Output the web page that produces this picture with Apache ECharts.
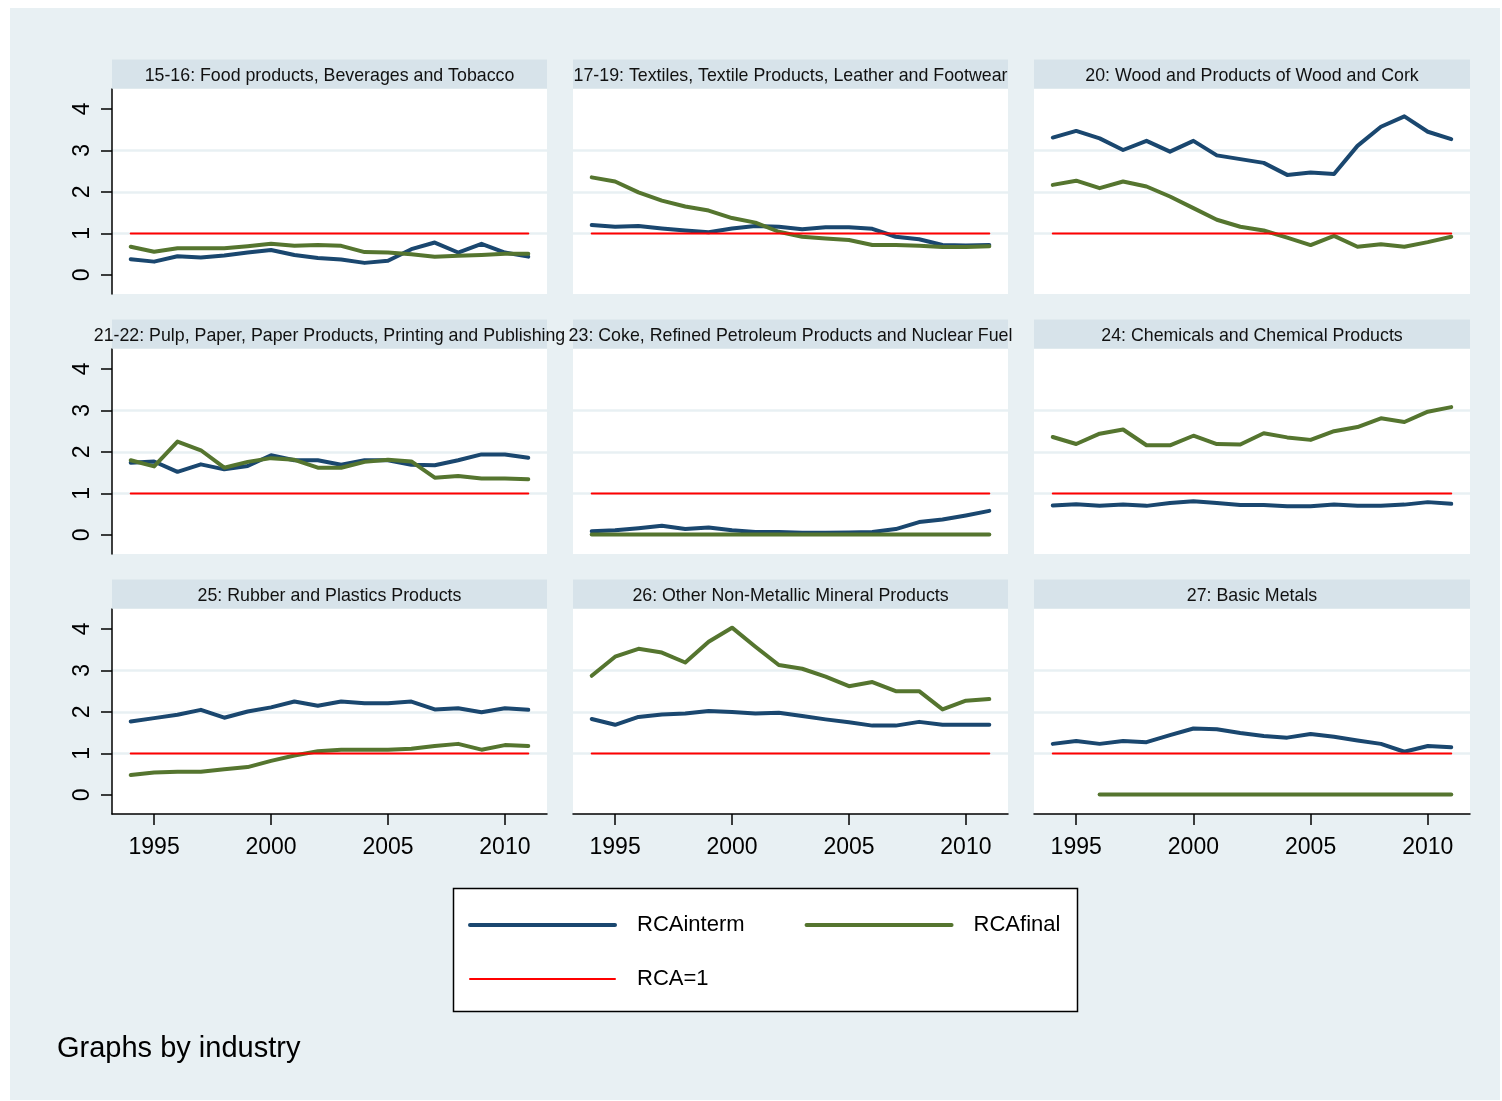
<!DOCTYPE html>
<html><head><meta charset="utf-8">
<script src="https://cdn.jsdelivr.net/npm/echarts@6/dist/echarts.min.js"></script>
<style>html,body{margin:0;padding:0;background:#fff}#c{width:1502px;height:1101px}</style>
</head><body><div id="c"></div>
<script>
const years = [1994,1995,1996,1997,1998,1999,2000,2001,2002,2003,2004,2005,2006,2007,2008,2009,2010,2011];
const xTicks = [1995,2000,2005,2010];
const yTicks = [0,1,2,3,4];
const seriesNames = ['RCAinterm','RCAfinal','RCA=1'];
const panelTitles = [
  '15-16: Food products, Beverages and Tobacco',
  '17-19: Textiles, Textile Products, Leather and Footwear',
  '20: Wood and Products of Wood and Cork',
  '21-22: Pulp, Paper, Paper Products, Printing and Publishing',
  '23: Coke, Refined Petroleum Products and Nuclear Fuel',
  '24: Chemicals and Chemical Products',
  '25: Rubber and Plastics Products',
  '26: Other Non-Metallic Mineral Products',
  '27: Basic Metals'
];
const foodInterm   = [0.38,0.32,0.45,0.42,0.47,0.54,0.60,0.48,0.41,0.37,0.29,0.34,0.62,0.78,0.54,0.75,0.54,0.44];
const foodFinal    = [0.68,0.56,0.64,0.64,0.64,0.69,0.75,0.70,0.72,0.70,0.55,0.54,0.50,0.44,0.46,0.48,0.51,0.51];
const textInterm   = [1.20,1.16,1.18,1.12,1.07,1.03,1.12,1.18,1.16,1.10,1.15,1.15,1.11,0.92,0.86,0.72,0.71,0.72];
const textFinal    = [2.35,2.25,1.99,1.79,1.65,1.55,1.37,1.26,1.04,0.92,0.88,0.84,0.72,0.72,0.70,0.67,0.67,0.69];
const woodInterm   = [3.31,3.47,3.29,3.01,3.23,2.97,3.23,2.88,2.79,2.70,2.41,2.47,2.43,3.11,3.57,3.82,3.45,3.27];
const woodFinal    = [2.17,2.27,2.09,2.25,2.13,1.89,1.61,1.33,1.16,1.07,0.90,0.72,0.94,0.68,0.74,0.68,0.79,0.92];
const pulpInterm   = [1.74,1.77,1.52,1.70,1.58,1.66,1.92,1.80,1.80,1.69,1.80,1.80,1.69,1.68,1.80,1.94,1.94,1.86];
const pulpFinal    = [1.80,1.65,2.25,2.04,1.62,1.76,1.85,1.81,1.62,1.62,1.76,1.81,1.77,1.38,1.42,1.36,1.36,1.34];
const cokeInterm   = [0.09,0.11,0.16,0.22,0.14,0.18,0.11,0.07,0.07,0.05,0.05,0.06,0.07,0.14,0.31,0.37,0.47,0.58];
const cokeFinal    = [0.01,0.01,0.01,0.01,0.01,0.01,0.01,0.01,0.01,0.01,0.01,0.01,0.01,0.01,0.01,0.01,0.01,0.01];
const chemInterm   = [0.71,0.74,0.70,0.73,0.70,0.77,0.81,0.77,0.72,0.72,0.69,0.69,0.73,0.70,0.70,0.73,0.79,0.75];
const chemFinal    = [2.36,2.19,2.44,2.54,2.16,2.16,2.39,2.19,2.18,2.45,2.35,2.29,2.50,2.60,2.81,2.72,2.97,3.08];
const rubberInterm = [1.77,1.85,1.93,2.05,1.86,2.01,2.11,2.25,2.15,2.25,2.21,2.21,2.25,2.06,2.09,1.99,2.09,2.05];
const rubberFinal  = [0.48,0.54,0.56,0.56,0.62,0.67,0.82,0.95,1.05,1.09,1.09,1.09,1.11,1.18,1.23,1.09,1.20,1.18];
const mineralInterm= [1.83,1.69,1.88,1.94,1.96,2.02,2.00,1.96,1.98,1.90,1.82,1.75,1.67,1.67,1.76,1.69,1.69,1.69];
const mineralFinal = [2.87,3.33,3.52,3.43,3.19,3.69,4.03,3.57,3.13,3.04,2.85,2.62,2.72,2.50,2.50,2.06,2.27,2.31];
const metalInterm  = [1.23,1.30,1.23,1.30,1.27,1.44,1.60,1.58,1.49,1.42,1.38,1.47,1.40,1.31,1.23,1.04,1.18,1.15];
const metalFinal   = [null,null,0.01,0.01,0.01,0.01,0.01,0.01,0.01,0.01,0.01,0.01,0.01,0.01,0.01,0.01,0.01,0.01];
const rcaOne       = [1,1,1,1,1,1,1,1,1,1,1,1,1,1,1,1,1,1];

const panelInterm = [foodInterm,textInterm,woodInterm,pulpInterm,cokeInterm,chemInterm,rubberInterm,mineralInterm,metalInterm];
const panelFinal  = [foodFinal,textFinal,woodFinal,pulpFinal,cokeFinal,chemFinal,rubberFinal,mineralFinal,metalFinal];

const FONT = "'Liberation Sans', Arial, Helvetica, sans-serif";
const BLUE = '#1a476f', GREEN = '#55752f', RED = '#ff0000';
const BG = '#e8f0f3', STRIP = '#d7e3ea';
const colLeft = [112, 573, 1034], colWidth = [435, 435, 436];
const rowTop = [89, 349, 609], rowH = 205, stripH = 29;

const grids = [], xAxes = [], yAxes = [], series = [];
const graphics = [
  {type:'rect', shape:{x:10, y:8, width:1490, height:1092}, style:{fill:BG}, z:-10, silent:true}
];
for (let p = 0; p < 9; p++) {
  const r = Math.floor(p / 3), c = p % 3;
  const left = colLeft[c], w = colWidth[c], top = rowTop[r];
  grids.push({left:left, top:top, width:w, height:rowH, show:true, backgroundColor:'#fff', borderWidth:0, containLabel:false});
  const bottomRow = r === 2, firstCol = c === 0;
  xAxes.push({
    type:'value', gridIndex:p, min:1993.2, max:2011.8,
    axisLine:{show:bottomRow, onZero:false, lineStyle:{color:'#000', width:1.5}},
    axisTick:{show:bottomRow, length:11, customValues:xTicks, lineStyle:{color:'#000', width:1.5}},
    axisLabel:{show:bottomRow, customValues:xTicks, fontSize:23, color:'#000', fontFamily:FONT, margin:22,
      formatter:(v) => String(v)},
    splitLine:{show:false}
  });
  yAxes.push({
    type:'value', gridIndex:p, min:-0.46, max:4.48, splitNumber:5,
    axisLine:{show:firstCol, onZero:false, lineStyle:{color:'#000', width:1.5}},
    axisTick:{show:firstCol, length:11, customValues:yTicks, lineStyle:{color:'#000', width:1.5}},
    axisLabel:{show:firstCol, customValues:yTicks, rotate:90, fontSize:23, color:'#000', fontFamily:FONT, margin:18},
    splitLine:{show:true, showMinLine:false, showMaxLine:false, lineStyle:{color:BG, width:2.5}}
  });
  const mk = (name, vals, color, width, z) => ({
    type:'line', name:name, xAxisIndex:p, yAxisIndex:p,
    data: years.map((y, i) => [y, vals[i]]),
    symbol:'none', showSymbol:false, connectNulls:false, silent:true, z:z,
    lineStyle:{color:color, width:width, cap:'round', join:'round'},
    itemStyle:{color:color}
  });
  series.push(mk(seriesNames[0], panelInterm[p], BLUE, 4, 3));
  series.push(mk(seriesNames[1], panelFinal[p], GREEN, 4, 4));
  series.push(mk(seriesNames[2], rcaOne, RED, 2, 5));
  graphics.push({type:'rect', shape:{x:left, y:top - stripH - 0.5, width:w, height:stripH}, style:{fill:STRIP}, z:1, silent:true});
  graphics.push({type:'text', x:left + w / 2, y:top - 13, z:2, silent:true,
    style:{text:panelTitles[p], fontSize:17.8, fontFamily:FONT, fill:'#111', align:'center', verticalAlign:'middle'}});
}
graphics.push({type:'rect', shape:{x:453.5, y:888.5, width:624, height:123}, style:{fill:'#fff', stroke:'#000', lineWidth:1.5}, z:1, silent:true});
graphics.push({type:'text', x:57, y:1049, z:2, silent:true,
  style:{text:'Graphs by industry', fontSize:29, fontFamily:FONT, fill:'#000', align:'left', verticalAlign:'middle'}});

const chart = echarts.init(document.getElementById('c'), null, {renderer:'canvas'});
chart.setOption({
  backgroundColor:'#fff',
  animation:false,
  textStyle:{fontFamily:FONT},
  grid:grids, xAxis:xAxes, yAxis:yAxes, series:series,
  legend:{
    data:seriesNames, left:468, top:913, width:640, orient:'horizontal', padding:0,
    itemWidth:145, itemHeight:24, itemGap:30, selectedMode:false, z:5,
    lineStyle:{width:'inherit'},
    itemStyle:{opacity:0},
    textStyle:{fontSize:22, color:'#000', fontFamily:FONT, lineHeight:24, padding:[0,30,0,17]}
  },
  graphic:{elements:graphics}
});
</script></body></html>
